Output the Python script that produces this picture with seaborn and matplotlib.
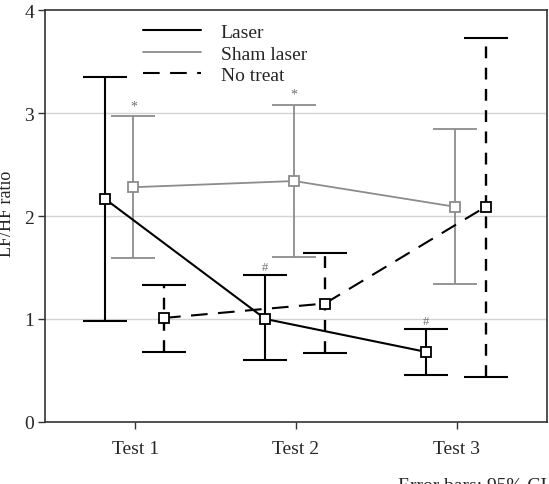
import numpy as np
import pandas as pd
import matplotlib
matplotlib.use('Agg')
import matplotlib.pyplot as plt
import seaborn as sns

tests = ['Test 1', 'Test 2', 'Test 3']
groups = ['Laser', 'Sham laser', 'No treat']

laser_mean = [2.17, 1.00, 0.68]
laser_lo = [0.98, 0.60, 0.46]
laser_hi = [3.35, 1.43, 0.90]

sham_mean = [2.28, 2.34, 2.09]
sham_lo = [1.59, 1.60, 1.34]
sham_hi = [2.97, 3.08, 2.85]

none_mean = [1.01, 1.15, 2.09]
none_lo = [0.68, 0.67, 0.44]
none_hi = [1.33, 1.64, 3.73]

# x offsets of each group around the test position
offsets = [-0.19, -0.01, 0.18]
colors = ['black', '#8c8c8c', 'black']
styles = ['-', '-', (0, (8, 5))]

sns.set_style('white')
plt.rcParams['font.family'] = ['Liberation Serif', 'DejaVu Serif']

fig = plt.figure(figsize=(5.49, 4.85), dpi=100)
ax = fig.add_axes([0.082, 0.128, 0.914, 0.849])

rows = []
for g, m, lo, hi in zip(groups, [laser_mean, sham_mean, none_mean],
                        [laser_lo, sham_lo, none_lo], [laser_hi, sham_hi, none_hi]):
    for i, t in enumerate(tests):
        rows.append({'group': g, 'x': i + offsets[groups.index(g)], 'mean': m[i], 'lo': lo[i], 'hi': hi[i]})
df = pd.DataFrame(rows)

for y in [1, 2, 3]:
    ax.axhline(y, color='#d4d4d4', lw=1, zorder=0)

for k, g in enumerate(groups):
    d = df[df.group == g]
    lw = 1.5 if k != 1 else 1.3
    sns.lineplot(data=d, x='x', y='mean', ax=ax, color=colors[k], lw=lw,
                 linestyle=styles[k], marker='s', markersize=7, markerfacecolor='white',
                 markeredgecolor=colors[k], markeredgewidth=1.3, label=g, sort=False, zorder=3)
    eb = ax.errorbar(d['x'], d['mean'], yerr=[d['mean'] - d['lo'], d['hi'] - d['mean']],
                     fmt='none', ecolor=colors[k], elinewidth=lw, capsize=16, capthick=lw, zorder=2)
    if k == 2:
        eb[2][0].set_linestyle((0, (5, 4)))
        eb[2][0].set_linewidth(1.7)

# significance marks
ax.text(0 + offsets[1], sham_hi[0] + 0.04, '*', ha='center', va='bottom', fontsize=10, color='#707070')
ax.text(1 + offsets[1], sham_hi[1] + 0.04, '*', ha='center', va='bottom', fontsize=10, color='#707070')
ax.text(1 + offsets[0], laser_hi[1] + 0.02, '#', ha='center', va='bottom', fontsize=9, color='#707070')
ax.text(2 + offsets[0], laser_hi[2] + 0.02, '#', ha='center', va='bottom', fontsize=9, color='#707070')

ax.set_xlim(-0.56, 2.56)
ax.set_ylim(0, 4)
ax.set_xticks(range(len(tests)))
ax.set_xticklabels(tests)
ax.set_yticks([0, 1, 2, 3, 4])
ax.set_xlabel('')
ax.set_ylabel('')
ax.tick_params(axis='both', direction='out', length=5, width=1, bottom=True, left=True, color='#333333')
ax.tick_params(axis='x', labelsize=14, pad=8)
ax.tick_params(axis='y', labelsize=14, pad=3)
for s in ax.spines.values():
    s.set_color('#333333')
    s.set_linewidth(1.2)

leg = ax.legend(loc='upper left', bbox_to_anchor=(0.16, 1.01), frameon=False, fontsize=14,
                handlelength=3.0, handletextpad=1.0, labelspacing=0.2)
for h in leg.get_lines():
    h.set_marker('')

fig.text(-0.003, 0.56, 'LF/HF ratio', rotation=90, ha='left', va='center', fontsize=13)
fig.text(0.725, -0.003, 'Error bars: 95% CI', ha='left', va='center', fontsize=14)

fig.savefig('out.png', dpi=100)
